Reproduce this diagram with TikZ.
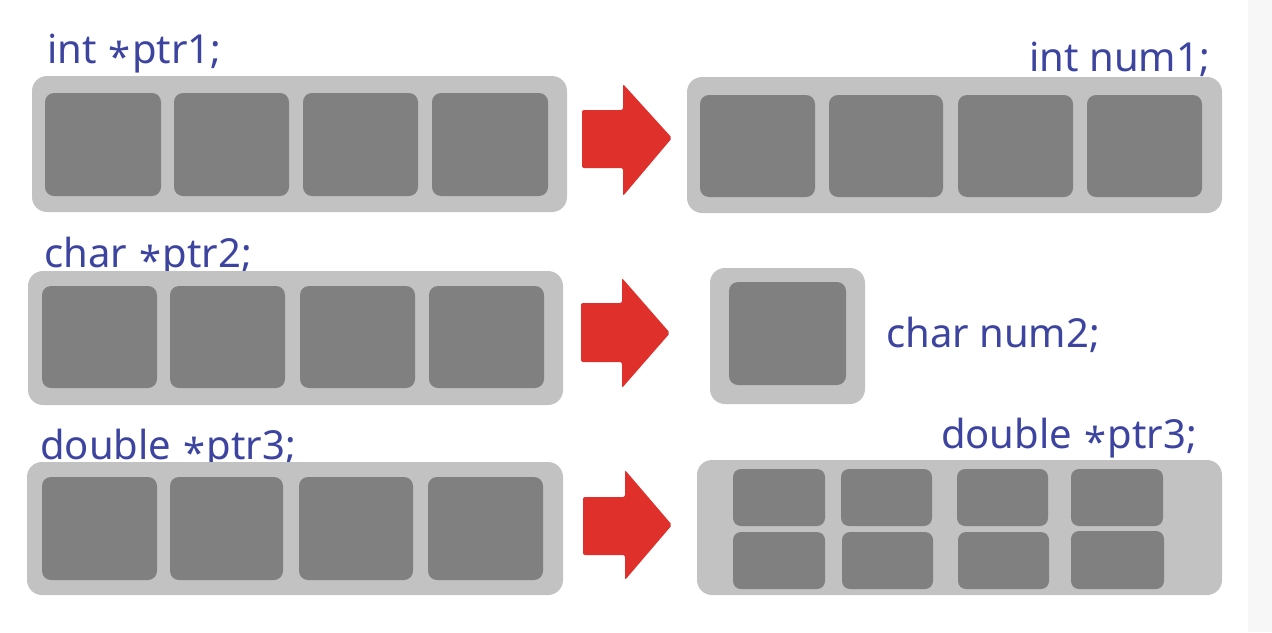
\documentclass[tikz,border=0pt]{standalone}
\usepackage{fontspec}
\setmainfont{Noto Sans}
\usetikzlibrary{fit}
\definecolor{outerg}{HTML}{C2C2C2}
\definecolor{innerg}{HTML}{808080}
\definecolor{arrred}{HTML}{DF302C}
\definecolor{txtblue}{HTML}{3C44A0}
\definecolor{stripg}{HTML}{F7F7F7}
\newcommand{\lowstar}{\kern0.04em\raisebox{-0.22em}{*}\kern0.04em}
\tikzset{
  outerbox/.style={fill=outerg, draw=none, rounded corners=15pt, inner sep=0pt},
  cellbox/.style={fill=innerg, draw=none, rounded corners=9pt, inner sep=0pt},
  smallcell/.style={fill=innerg, draw=none, rounded corners=8pt, inner sep=0pt},
  redarrow/.style={fill=arrred, draw=none, rounded corners=2pt},
  decl/.style={text=txtblue, font=\fontsize{40}{44}\selectfont, inner sep=0pt}
}
\begin{document}
\begin{tikzpicture}[x=1pt,y=-1pt]
\useasboundingbox (0,0) rectangle (1272,632);
\fill[stripg] (1248,0) rectangle (1272,632);

% ---- texts (drawn first, boxes overlap descenders)
\node[decl, anchor=base west] (t1) at (47,63) {int \lowstar ptr1;};
\node[decl, anchor=base east] (t2) at (1210,71) {int num1;};
\node[decl, anchor=base west] (t3) at (44,267) {char \lowstar ptr2;};
\node[decl, anchor=base west] (t4) at (886,347) {char num2;};
\node[decl, anchor=base west] (t5) at (40,459) {double \lowstar ptr3;};
\node[decl, anchor=base east] (t6) at (1197,448) {double \lowstar ptr3;};

% ---- row 1
\node[outerbox, fit={(32,76) (567,212)}] (L1) {};
\node[cellbox, fit={(45,93) (161,196)}] (L1a) {};
\node[cellbox, fit={(174,93) (289,196)}] (L1b) {};
\node[cellbox, fit={(303,93) (418,196)}] (L1c) {};
\node[cellbox, fit={(432,93) (548,196)}] (L1d) {};
\fill[redarrow] (582,110) -- (623,110) -- (623,84) -- (672,138) -- (623,196) -- (623,168) -- (582,168) -- cycle;
\node[outerbox, fit={(687,77) (1222,213)}] (R1) {};
\node[cellbox, fit={(700,95) (815,197)}] (R1a) {};
\node[cellbox, fit={(829,95) (943,197)}] (R1b) {};
\node[cellbox, fit={(958,95) (1073,197)}] (R1c) {};
\node[cellbox, fit={(1087,95) (1202,197)}] (R1d) {};

% ---- row 2
\node[outerbox, fit={(28,271) (563,405)}] (L2) {};
\node[cellbox, fit={(42,286) (157,388)}] (L2a) {};
\node[cellbox, fit={(170,286) (285,388)}] (L2b) {};
\node[cellbox, fit={(300,286) (415,388)}] (L2c) {};
\node[cellbox, fit={(429,286) (544,388)}] (L2d) {};
\fill[redarrow] (581,303) -- (622,303) -- (622,278) -- (670,333) -- (622,388) -- (622,362) -- (581,362) -- cycle;
\node[outerbox, fit={(710,268) (865,404)}] (R2) {};
\node[cellbox, fit={(729,282) (846,385)}] (R2a) {};

% ---- row 3
\node[outerbox, fit={(27,462) (563,595)}] (L3) {};
\node[cellbox, fit={(42,477) (157,580)}] (L3a) {};
\node[cellbox, fit={(170,477) (283,580)}] (L3b) {};
\node[cellbox, fit={(299,477) (413,580)}] (L3c) {};
\node[cellbox, fit={(428,477) (543,580)}] (L3d) {};
\fill[redarrow] (583,497) -- (625,497) -- (625,470) -- (672,525) -- (625,580) -- (625,555) -- (583,555) -- cycle;
\node[outerbox, fit={(697,460) (1222,595)}] (R3) {};
\node[smallcell, fit={(733,469) (825,526)}] (R3a) {};
\node[smallcell, fit={(841,469) (932,526)}] (R3b) {};
\node[smallcell, fit={(957,469) (1048,526)}] (R3c) {};
\node[smallcell, fit={(1071,469) (1163,526)}] (R3d) {};
\node[smallcell, fit={(733,532) (825,589)}] (R3e) {};
\node[smallcell, fit={(842,532) (933,589)}] (R3f) {};
\node[smallcell, fit={(958,532) (1049,589)}] (R3g) {};
\node[smallcell, fit={(1071,531) (1164,589)}] (R3h) {};
\end{tikzpicture}
\end{document}
